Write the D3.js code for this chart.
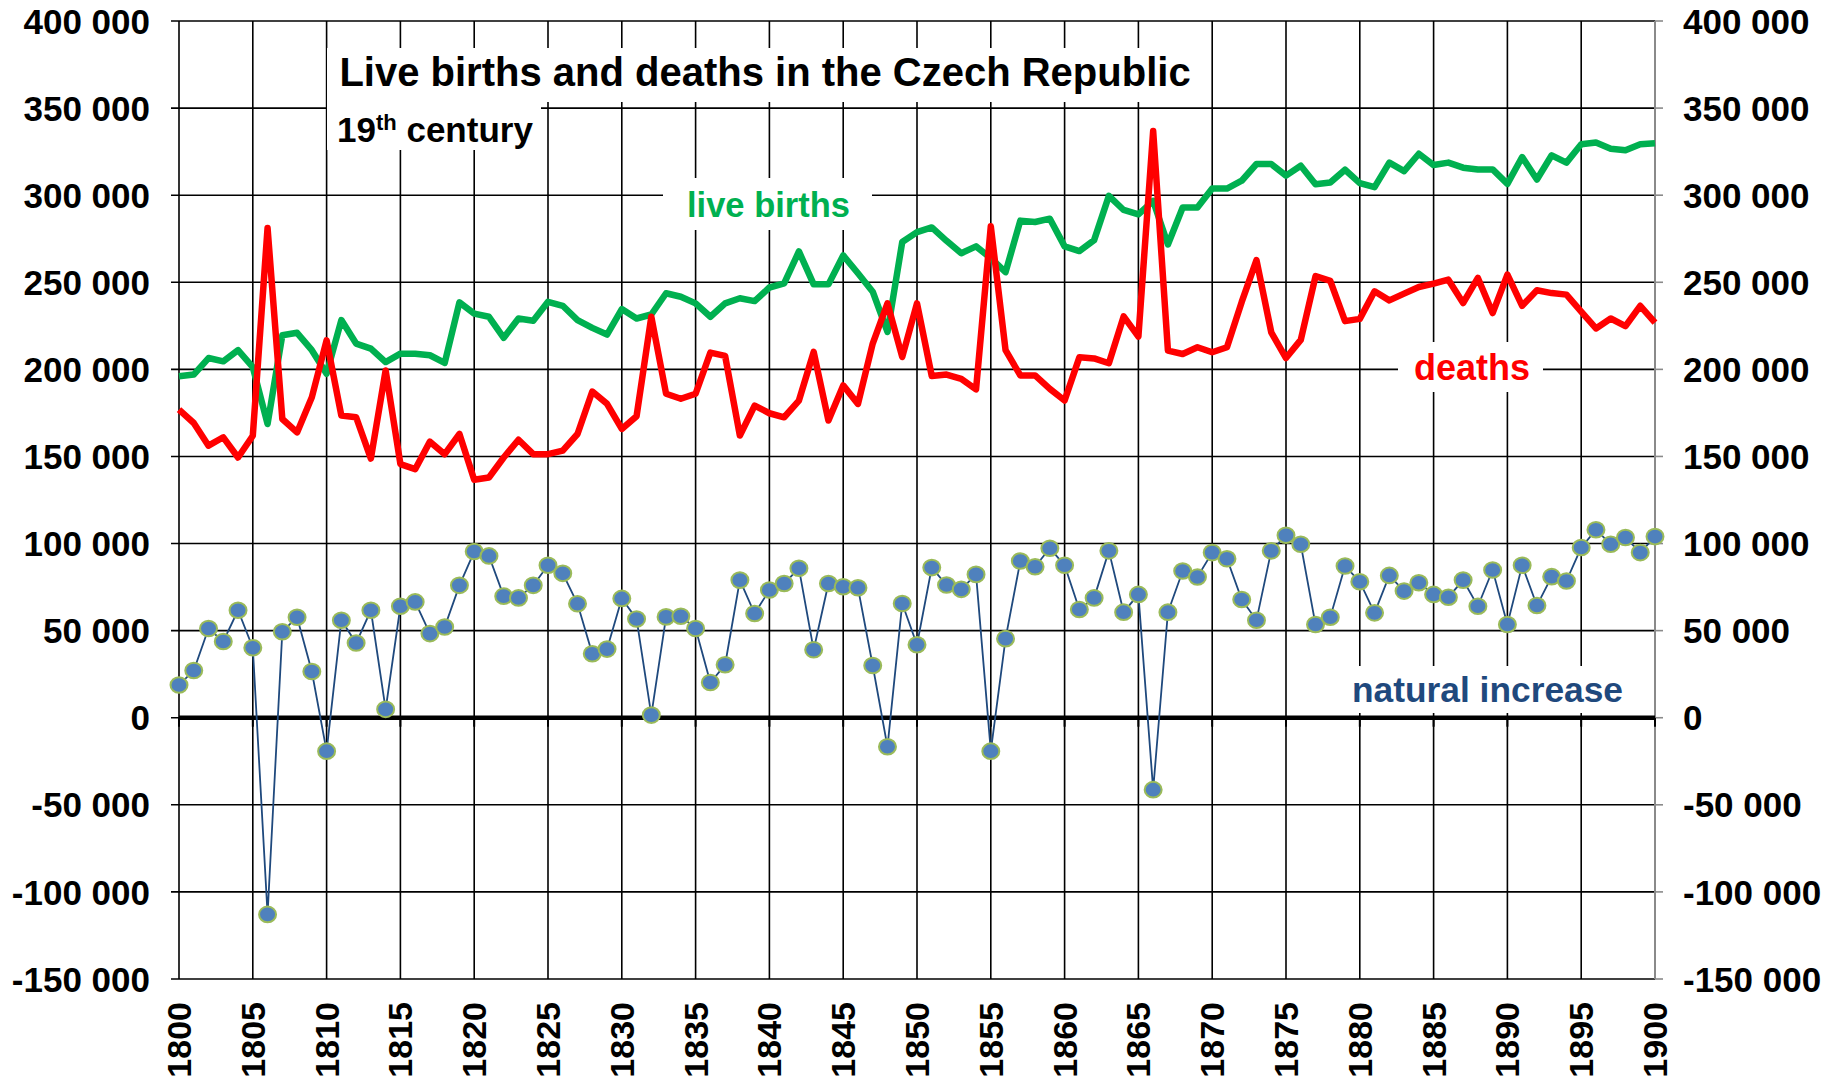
<!DOCTYPE html>
<html><head><meta charset="utf-8">
<script src="https://cdn.jsdelivr.net/npm/d3@7"></script>
<style>body{margin:0;background:#fff}svg{display:block}</style>
</head><body><svg id="c" width="1837" height="1090"></svg>
<script>
const years = d3.range(1800, 1901);
const births = [
 196000,197000,206500,204600,211000, 201300,168600,219600,221000,211000,
 197500,228300,214800,211900,204200, 209000,209000,208100,203700,238500,
 232000,230200,218100,229200,227900, 238800,236500,228300,223800,220000,
 234600,229200,231500,243700,241700, 237900,230200,237900,240800,239200,
 247000,249400,267700,248800,248800, 265400,255200,244600,221500,273100,
 278800,281500,273800,266700,270600, 263800,255800,285400,284600,286500,
 270600,267900,274200,299600,291500, 289000,296700,271700,292900,292900,
 303800,303800,308300,317900,317900, 311200,316900,306300,307300,314600,
 306900,304600,318700,313800,323800, 317300,318700,315800,314800,314800,
 306500,321900,309000,322900,318700, 329200,330200,326700,325800,329200,
 329800];
const deaths = [
 176900,169200,156200,161000,149400, 161900,281200,171500,163800,184000,
 216700,173500,172500,148800,199400, 145600,142700,158500,151300,162900,
 136600,137900,149400,159600,151300, 151300,153300,162900,187300,180200,
 165800,173100,230200,186000,183100, 186000,209600,207700,162000,179200,
 174800,172500,182100,210000,170600, 190800,180200,214800,237900,207100,
 237900,196200,197000,194600,188500, 282100,211000,196500,196500,188800,
 182100,206900,206300,203500,230400, 218800,336900,210800,208800,212700,
 209800,212700,238700,262700,221300, 206500,216900,253500,250800,227700,
 229000,244800,239600,243500,247300, 249200,251500,238100,252500,232300,
 254400,236500,245400,243800,242900, 233100,223500,229200,224800,236500,
 226800];
const naturalIncrease = [
 18800,27100,51200,43800,61700, 40200,-112900,49400,57700,26500,
 -19200,56000,42900,61700,4800, 64000,66500,48300,52100,76000,
 95400,92900,69800,68800,76000, 87500,82900,65400,36700,39400,
 68500,56700,1500,57900,58300, 51200,20200,30400,79000,59800,
 73300,77100,85800,39000,77100, 75200,74600,30000,-16700,65600,
 41900,86200,76200,73700,82300, -19200,45400,90000,86700,97300,
 87500,62100,68800,95800,60600, 70800,-41300,60600,84200,80800,
 94800,91300,67900,56000,95800, 104800,99600,53500,57700,87100,
 78100,60200,81700,72700,77500, 70800,69200,79000,64000,84800,
 53500,87500,64400,81000,78500, 97700,107900,99600,103500,94800,
 104000];
const yTicks = [400000,350000,300000,250000,200000,150000,100000,50000,0,-50000,-100000,-150000];
const xTicks = [1800,1805,1810,1815,1820,1825,1830,1835,1840,1845,1850,1855,1860,1865,1870,1875,1880,1885,1890,1895,1900];
const titleText = "Live births and deaths in the Czech Republic";
const seriesNames = ["live births", "deaths", "natural increase"];

const svg = d3.select("#c");
svg.append("rect").attr("width",1837).attr("height",1090).attr("fill","#fff");
const L = 179, R = 1655, T = 21, B = 979;
const x = d3.scaleLinear().domain([1800,1900]).range([L,R]);
const y = d3.scaleLinear().domain([-150000,400000]).range([B,T]);
const loc = d3.formatLocale({decimal:".", thousands:" ", grouping:[3], currency:["",""], minus:"-"});
const fmt = loc.format(",");
const FONT = "'Liberation Sans', Arial, sans-serif";

// horizontal grid
svg.append("g").selectAll("line").data(yTicks).join("line")
  .attr("x1",L-8).attr("x2",R).attr("y1",d=>y(d)).attr("y2",d=>y(d))
  .attr("stroke","#000").attr("stroke-width",1.6);
// vertical grid
svg.append("g").selectAll("line").data(xTicks).join("line")
  .attr("x1",d=>x(d)).attr("x2",d=>x(d)).attr("y1",T).attr("y2",B)
  .attr("stroke",d=>d===1900?"#8a8a8a":"#000").attr("stroke-width",d=>d===1900?2:1.6);
// right ticks grey
svg.append("g").selectAll("line").data(yTicks).join("line")
  .attr("x1",R).attr("x2",R+8).attr("y1",d=>y(d)).attr("y2",d=>y(d))
  .attr("stroke","#8a8a8a").attr("stroke-width",1.6);
// zero line
svg.append("line").attr("x1",L).attr("x2",R).attr("y1",y(0)).attr("y2",y(0))
  .attr("stroke","#000").attr("stroke-width",4.5);
svg.append("g").selectAll("line").data(xTicks).join("line")
  .attr("x1",d=>x(d)).attr("x2",d=>x(d)).attr("y1",y(0)).attr("y2",y(0)+9)
  .attr("stroke","#000").attr("stroke-width",2);

// Axis labels
svg.append("g").selectAll("text").data(yTicks).join("text")
  .attr("x",150).attr("y",d=>y(d)).attr("dy","0.36em").attr("text-anchor","end")
  .attr("font-family",FONT).attr("font-weight","bold").attr("font-size",35).attr("fill","#000")
  .text(d=>fmt(d));
svg.append("g").selectAll("text").data(yTicks).join("text")
  .attr("x",1683).attr("y",d=>y(d)).attr("dy","0.36em").attr("text-anchor","start")
  .attr("font-family",FONT).attr("font-weight","bold").attr("font-size",35).attr("fill","#000")
  .text(d=>fmt(d));
svg.append("g").selectAll("text").data(xTicks).join("text")
  .attr("transform",d=>`translate(${x(d)+12},1002) rotate(-90)`)
  .attr("text-anchor","end")
  .attr("font-family",FONT).attr("font-weight","bold").attr("font-size",34).attr("fill","#000")
  .text(d=>d);

// label boxes
function box(x0,y0,w,h){svg.append("rect").attr("x",x0).attr("y",y0).attr("width",w).attr("height",h).attr("fill","#fff");}
box(327,48,878,54);
box(327,100,214,50);
box(663,178,209,52);
box(1398,342,145,50);
box(1340,666,314,47);

svg.append("text").attr("x",765).attr("y",86).attr("text-anchor","middle")
  .attr("font-family",FONT).attr("font-weight","bold").attr("font-size",40).attr("fill","#000")
  .text(titleText);
const sub = svg.append("text").attr("x",337).attr("y",142)
  .attr("font-family",FONT).attr("font-weight","bold").attr("font-size",35).attr("fill","#000");
sub.append("tspan").text("19");
sub.append("tspan").attr("font-size",22).attr("dy",-12).text("th");
sub.append("tspan").attr("dy",12).text(" century");

// lines
const line = (arr)=>d3.line().x((d,i)=>x(years[i])).y(d=>y(d))(arr);
svg.append("path").attr("d",line(births)).attr("fill","none").attr("stroke","#00B050")
  .attr("stroke-width",6.5).attr("stroke-linejoin","round");
svg.append("path").attr("d",line(deaths)).attr("fill","none").attr("stroke","#FF0000")
  .attr("stroke-width",6.5).attr("stroke-linejoin","round");
svg.append("path").attr("d",line(naturalIncrease)).attr("fill","none").attr("stroke","#1F497D")
  .attr("stroke-width",1.8);
svg.append("g").selectAll("ellipse").data(naturalIncrease).join("ellipse")
  .attr("cx",(d,i)=>x(years[i])).attr("cy",d=>y(d)).attr("rx",8.5).attr("ry",7.8)
  .attr("fill","#4F81BD").attr("stroke","#9BBB59").attr("stroke-width",2);

// series labels
svg.append("text").attr("x",687).attr("y",217)
  .attr("font-family",FONT).attr("font-weight","bold").attr("font-size",34.5).attr("fill","#00B050")
  .text(seriesNames[0]);
svg.append("text").attr("x",1414).attr("y",380)
  .attr("font-family",FONT).attr("font-weight","bold").attr("font-size",36).attr("fill","#FF0000")
  .text(seriesNames[1]);
svg.append("text").attr("x",1352).attr("y",702).attr("textLength",271).attr("lengthAdjust","spacingAndGlyphs")
  .attr("font-family",FONT).attr("font-weight","bold").attr("font-size",35).attr("fill","#1F497D")
  .text(seriesNames[2]);
</script></body></html>
